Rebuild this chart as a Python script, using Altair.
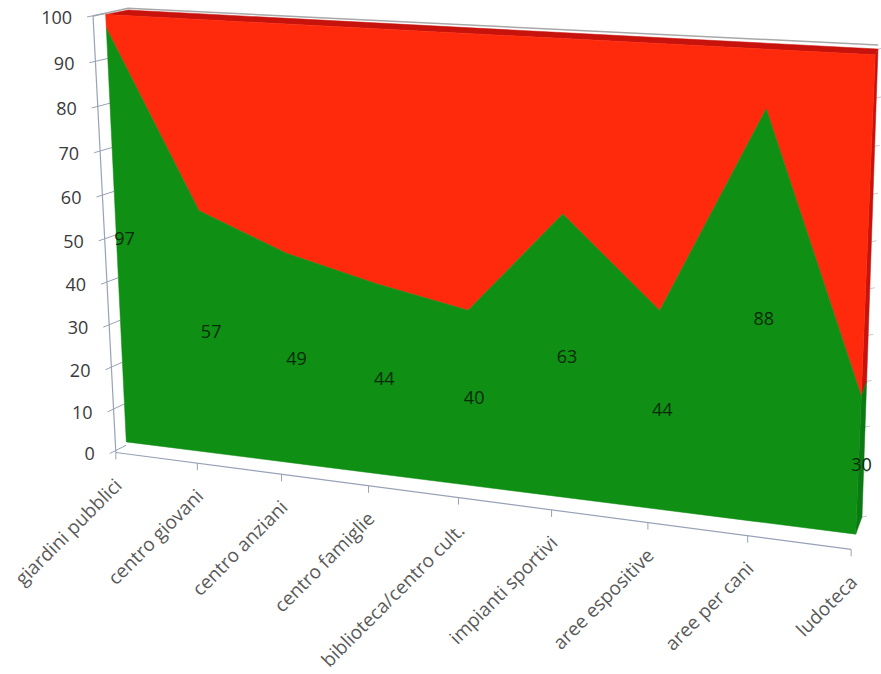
import altair as alt
import numpy as np
import pandas as pd

# Series values (100% stacked: the red band fills the rest up to the total)
categorie = ["giardini pubblici", "centro giovani", "centro anziani", "centro famiglie",
             "biblioteca/centro cult.", "impianti sportivi", "aree espositive",
             "aree per cani", "ludoteca"]
verde = [97, 57, 49, 44, 40, 63, 44, 88, 30]
totale = 100
tacche_y = list(range(0, 101, 10))

WIDTH, HEIGHT = 881, 674
VERDE, ROSSO = "#0f8f14", "#ff2a0c"
VERDE_SCURO, ROSSO_SCURO = "#0b7a12", "#c8120c"
ASSE = "#98a2b6"
FONT = "Open Sans"


def homography(pairs):
    """3D-look projection from (u, v) on the unit square to the screen plane, least squares."""
    a, b = [], []
    for (u, v), (x, y) in pairs:
        a.append([u, v, 1, 0, 0, 0, -u * x, -v * x])
        a.append([0, 0, 0, u, v, 1, -u * y, -v * y])
        b += [x, y]
    sol = np.linalg.lstsq(np.array(a, float), np.array(b, float), rcond=None)[0]
    h = np.append(sol, 1).reshape(3, 3)

    def project(u, v):
        p = h @ np.array([u, v, 1.0])
        return p[0] / p[2], p[1] / p[2]
    return project


def quad(bl, br, tr, tl):
    return homography([((0, 0), bl), ((1, 0), br), ((1, 1), tr), ((0, 1), tl)])


# Front plane, calibrated on its corners and on the kinks of the boundary between the bands
fronte = homography([
    ((0, 0), (127, 442)), ((1, 0), (855, 535)), ((1, 1), (874, 52)), ((0, 1), (107, 13)),
    ((1 / 8, .57), (197, 211)), ((4 / 8, .40), (467, 310)), ((5 / 8, .63), (563, 217)),
    ((6 / 8, .44), (660, 310)), ((7 / 8, .88), (767, 113)), ((1, .30), (863, 393)),
])
retro = quad((146, 432), (862, 517), (878, 49), (128, 10))
# Axis plane: the corner of the axes and the tick positions along the floor edge
parete = homography([
    ((0, 1), (93, 17)), ((1, 1), (870, 50)),
    ((0, 0), (115, 450)), ((1 / 8, 0), (197, 463)), ((2 / 8, 0), (282, 475)),
    ((3 / 8, 0), (368, 487)), ((4 / 8, 0), (460, 498)), ((5 / 8, 0), (553, 510)),
    ((6 / 8, 0), (648, 523)), ((7 / 8, 0), (747, 537)), ((1, 0), (850, 548)),
])

n = len(categorie) - 1


def rows(plane, pairs):
    return [dict(zip(("px", "py", "seq"), (*plane(i / n, val / totale), k)))
            for k, (i, val) in enumerate(pairs)]


X = alt.Scale(domain=[0, WIDTH], range=[0, WIDTH], nice=False, zero=False)
Y = alt.Scale(domain=[HEIGHT, 0], nice=False, zero=False)
xe = alt.X("px:Q", scale=X, axis=None)
ye = alt.Y("py:Q", scale=Y, axis=None)


def poligono(data, colore):
    return alt.Chart(pd.DataFrame(data)).mark_line(
        fill=colore, stroke=colore, strokeWidth=0.5, interpolate="linear-closed"
    ).encode(x=xe, y=ye, order=alt.Order("seq:Q"))


def tratto(data, colore, spessore=1.2):
    return alt.Chart(pd.DataFrame(data)).mark_line(
        stroke=colore, strokeWidth=spessore
    ).encode(x=xe, y=ye, detail="gid:N", order=alt.Order("seq:Q"))


idx = list(range(len(verde)))

# Main faces of the stacked areas
banda_verde = rows(fronte, [(i, verde[i]) for i in idx] + [(i, 0) for i in reversed(idx)])
banda_rossa = rows(fronte, [(i, totale) for i in idx] + [(i, verde[i]) for i in reversed(idx)])

# Depth faces: top of the red band and right-hand side of both bands
tetto = rows(fronte, [(0, totale), (n, totale)]) + \
    [dict(r, seq=r["seq"] + 2) for r in rows(retro, [(n, totale), (0, totale)])]
lato_rosso = rows(fronte, [(n, verde[n]), (n, totale)]) + \
    [dict(r, seq=r["seq"] + 2) for r in rows(retro, [(n, totale), (n, verde[n])])]
lato_verde = rows(fronte, [(n, 0), (n, verde[n])]) + \
    [dict(r, seq=r["seq"] + 2) for r in rows(retro, [(n, verde[n]), (n, 0)])]

# Axis lines
asse_y = rows(parete, [(0, 0), (0, totale)])
for r in asse_y:
    r["gid"] = "y"
asse_x = rows(parete, [(0, 0), (n, 0)])
for r in asse_x:
    r["gid"] = "x"
bordo = [dict(r, gid="top") for r in rows(parete, [(0, totale)])] + \
    [dict(r, gid="top", seq=r["seq"] + 1) for r in rows(retro, [(0, totale + 0.4), (n, totale + 0.8)])]

# Tick marks cross the axis and run on towards the wall
tick_y = []
for t in tacche_y:
    ax, ay = parete(0, t / totale)
    fx, fy = fronte(0, t / totale)
    tick_y.append(dict(px=ax - 6, py=ay + 1, seq=0, gid=f"y{t}"))
    tick_y.append(dict(px=fx, py=(ay + fy) / 2 - 2, seq=1, gid=f"y{t}"))
tick_x = []
for i in idx:
    ax, ay = parete(i / n, 0)
    tick_x.append(dict(px=ax, py=ay, seq=0, gid=f"x{i}"))
    tick_x.append(dict(px=ax, py=ay + 7, seq=1, gid=f"x{i}"))

# Wall gridlines peeking out beyond the right-hand side of the bands
stub = []
for t in tacche_y:
    rx, ry = retro(1, t / totale)
    stub.append(dict(px=rx, py=ry, seq=0, gid=f"s{t}"))
    stub.append(dict(px=rx + 5, py=ry - 1, seq=1, gid=f"s{t}"))

# Text tables
lab_y = pd.DataFrame([dict(zip(("px", "py"), parete(0, t / totale)), testo=str(t)) for t in tacche_y])
lab_y["px"] -= 21
lab_y["py"] += 3
lab_x = pd.DataFrame([dict(zip(("px", "py"), parete(i / n, 0)), testo=categorie[i]) for i in idx])
lab_x["px"] += 3
lab_x["py"] += 30
lab_val = pd.DataFrame([dict(zip(("px", "py"), fronte(i / n, verde[i] / 2 / totale)), testo=str(verde[i]))
                        for i in idx])
# The value labels sit in the depth of the band, slightly right of the front face
lab_val["px"] += [8 - 5 * i / n for i in idx]

testo_y = alt.Chart(lab_y).mark_text(font=FONT, fontSize=18, align="right", baseline="middle",
                                     color="#3a3a3a").encode(x=xe, y=ye, text="testo:N")
testo_x = alt.Chart(lab_x).mark_text(font=FONT, fontSize=19, align="right", baseline="middle",
                                     angle=315, color="#5a5a5a").encode(x=xe, y=ye, text="testo:N")
testo_val = alt.Chart(lab_val).mark_text(font=FONT, fontSize=18, align="center", baseline="middle",
                                         color="#0a2a0a").encode(x=xe, y=ye, text="testo:N")

chart = alt.layer(
    tratto(bordo, "#a8a8a8", 1.5),
    tratto(asse_y, ASSE),
    tratto(asse_x, ASSE),
    tratto(tick_y, ASSE, 1),
    tratto(tick_x, ASSE, 1),
    tratto(stub, "#c4c8d0", 1),
    poligono(tetto, ROSSO_SCURO),
    poligono(lato_rosso, ROSSO_SCURO),
    poligono(lato_verde, VERDE_SCURO),
    poligono(banda_rossa, ROSSO),
    poligono(banda_verde, VERDE),
    testo_y,
    testo_x,
    testo_val,
).properties(width=WIDTH, height=HEIGHT, padding=0, autosize=alt.AutoSizeParams(type="none")
).configure_view(stroke=None)

chart.save("out.html", embed_options={"renderer": "svg", "actions": False})
